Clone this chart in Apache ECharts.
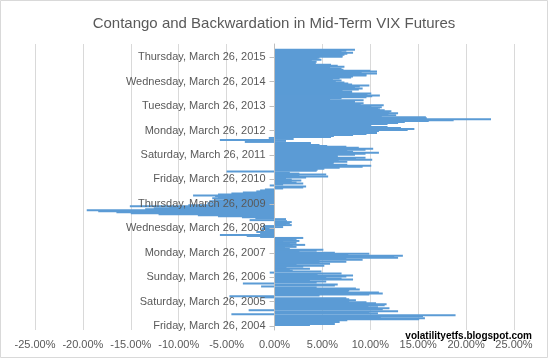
<!DOCTYPE html>
<html><head><meta charset="utf-8">
<script src="https://cdn.jsdelivr.net/npm/echarts@6/dist/echarts.min.js"></script>
<style>html,body{margin:0;padding:0;background:#fff}#c{width:548px;height:358px}</style>
</head><body><div id="c"></div>
<script>
// Mid-term VIX futures contango (+) / backwardation (-), in %, newest first,
// sampled roughly every 15 days starting from 26 March 2004 (oldest).
const firstDate = [2004, 2, 26]; // year, monthIndex, day
const stepDays = 14.9;
const contangoNewestFirst = [
  8.4, 7.5, 7.0, 8.2, 7.6, 7.3, 7.1, 7.1, 4.7, 4.5, 4.9, 3.9, 4.4, 4.3, 4.3, 5.9, 6.6, 7.3, 5.8, 7.0,
  7.2, 10.0, 10.7, 9.1, 10.7, 9.6, 9.6, 8.2, 8.0, 6.8, 6.1, 7.0, 6.4, 7.3, 7.7, 8.1, 9.9, 8.9, 8.4, 9.2,
  8.8, 7.1, 8.1, 8.1, 10.1, 9.7, 11.0, 10.2, 9.6, 7.0, 5.8, 9.3, 8.4, 8.4, 9.3,
  9.0, 11.4, 10.1, 11.2, 10.8, 11.0, 11.5, 12.2, 12.0, 12.9, 11.9, 12.7, 11.2, 15.8, 15.9, 22.6, 18.7, 16.1, 13.6, 12.9,
  11.8, 5.8, 10.1, 11.8, 13.2, 14.6, 13.9, 10.9, 9.6, 10.7, 9.6, 8.2, 6.2, 5.9, -0.6, 2.0, -5.7, 1.2, -3.1, 3.8,
  3.8, 4.7, 5.5, 7.5, 8.8, 10.3, 9.5, 7.6, 8.2, 10.9, 9.5, 8.4, 6.6, 6.6, 9.5, 8.5, 10.2, 6.7, 7.6, 6.2, 6.1,
  7.6, 10.1, 9.2, 6.8, 5.2, 4.5, 4.4, -5.0, 1.6, 2.6, 5.4, 2.6, 5.6, 3.3, 1.2, 1.8, 2.8, 1.8, 2.3, 3.0, 0.9,
  -0.5, 3.3, 3.0, 0.9, -1.0, -1.5, -1.9, -3.3, -4.5, -5.9, -8.5, -6.2, -5.9, -6.5, -5.2, -6.2, -6.8, -6.0, -7.0, -6.5,
  -9.0, -15.1, -11.0, -12.6, -13.5, -19.6, -18.4, -16.5, -15.0, -12.1, -8.0, -5.9, -3.4, -2.0, 1.2, -2.6,
  1.3, 1.8, 1.6, 1.2, 1.8, -1.2, 0.9, -1.25, -1.35, -1.0, -0.4, -1.9, -1.5, -1.2, -5.7, -2.9, -1.5, 3.0, 2.3, 1.9,
  2.6, 0.9, 2.3, 1.6, 3.2, 1.9, 2.3, 1.1, 1.6, 5.1, 4.4, 2.6, 6.3, 9.9, 7.7, 13.4, 12.5, 12.9, 7.5, 9.2,
  4.7, 7.5, 4.7, 5.8, 2.3, 5.2, 3.0, 1.25, 3.7, 1.6, 1.9, 4.9, -0.5, 7.0, 4.5, 8.2, 7.5, 5.4, 7.0, 8.2, 3.7, 5.4,
  4.4, -3.3, 6.6, 6.3, -1.4, 4.4, 8.5, 8.9, 7.8, 7.7, 10.9, 11.3, 9.9, 4.7, -4.7, -1.4, 7.5, 7.8, 8.5, 7.8,
  9.6, 10.6, 11.7, 11.5, 9.8, 10.8, 12.0, 11.3, -2.7, 12.9, 9.9, 10.8, -4.5, 18.9, 15.5, 11.1, 15.7, 15.1, 7.6, 5.4,
  6.8, 5.8, 6.3, 3.7
];
const tickYears = [2004, 2005, 2006, 2007, 2008, 2009, 2010, 2011, 2012, 2013, 2014, 2015];
const tickLabels = [
  'Friday, March 26, 2004', 'Saturday, March 26, 2005', 'Sunday, March 26, 2006',
  'Monday, March 26, 2007', 'Wednesday, March 26, 2008', 'Thursday, March 26, 2009',
  'Friday, March 26, 2010', 'Saturday, March 26, 2011', 'Monday, March 26, 2012',
  'Tuesday, March 26, 2013', 'Wednesday, March 26, 2014', 'Thursday, March 26, 2015'
];
const xMin = -25, xMax = 25, xStep = 5;
const yMinDate = new Date(2004, 0, 27).getTime();
const yMaxDate = new Date(2015, 9, 10).getTime();

const base = new Date(firstDate[0], firstDate[1], firstDate[2]).getTime();
const n = contangoNewestFirst.length;
const seriesData = contangoNewestFirst.map((v, k) => [v, base + (n - 1 - k) * stepDays * 86400000]);
const tickValues = tickYears.map(y => new Date(y, 2, 26).getTime());

const FONT = '"Liberation Sans", Arial, sans-serif';
const GRID_LEFT = 35, GRID_RIGHT = 34, WIDTH = 548;
// the date axis sits where the percentage axis is 0
const zeroOffset = -(WIDTH - GRID_LEFT - GRID_RIGHT) * (0 - xMin) / (xMax - xMin);

const chart = echarts.init(document.getElementById('c'), null, {renderer: 'canvas'});
chart.setOption({
  animation: false,
  backgroundColor: '#fff',
  title: [{
    text: 'Contango and Backwardation in Mid-Term VIX Futures',
    left: 'center', top: 11,
    textStyle: {color: '#595959', fontSize: 15, fontWeight: 'normal', fontFamily: FONT}
  }, {
    text: 'volatilityetfs.blogspot.com',
    right: 11, top: 326,
    textStyle: {color: '#000', fontSize: 10, fontWeight: 'bold', fontFamily: FONT}
  }],
  graphic: [{
    type: 'rect', shape: {x: 0.5, y: 0.5, width: 547, height: 357},
    style: {fill: null, stroke: '#D9D9D9', lineWidth: 1}, silent: true, z: 100
  }],
  grid: {left: GRID_LEFT, right: GRID_RIGHT, top: 44, bottom: 28, containLabel: false, outerBoundsMode: 'none'},
  xAxis: {
    type: 'value', min: xMin, max: xMax, interval: xStep,
    axisLine: {show: false, onZero: false}, axisTick: {show: false},
    splitLine: {show: true, lineStyle: {color: '#D9D9D9', width: 1}},
    axisLabel: {
      color: '#595959', fontSize: 11, margin: 9, fontFamily: FONT,
      showMinLabel: true, showMaxLabel: true, hideOverlap: false,
      formatter: v => v.toFixed(2) + '%'
    }
  },
  yAxis: [{
    type: 'time', min: yMinDate, max: yMaxDate, position: 'left',
    splitLine: {show: false},
    axisLine: {show: false, onZero: false},
    axisTick: {show: false},
    axisLabel: {show: false}
  }, {
    type: 'value', min: yMinDate, max: yMaxDate, z: 5, position: 'left',
    offset: zeroOffset,
    splitLine: {show: false},
    axisLine: {show: true, onZero: false, lineStyle: {color: '#BFBFBF', width: 1}},
    axisTick: {show: true, length: 5, customValues: tickValues, lineStyle: {color: '#BFBFBF'}},
    axisLabel: {
      customValues: tickValues,
      color: '#595959', fontSize: 11, margin: 9, fontFamily: FONT,
      formatter: v => tickLabels[tickYears.indexOf(new Date(v).getFullYear())]
    }
  }],
  series: [{
    type: 'bar',
    yAxisIndex: 0,
    data: seriesData,
    barWidth: 2,
    itemStyle: {color: '#5B9BD5'}
  }]
});
</script></body></html>
